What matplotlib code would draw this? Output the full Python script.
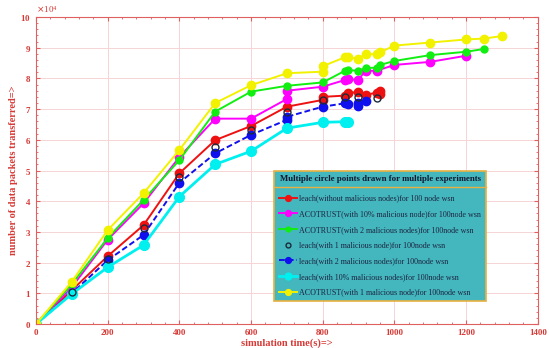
import matplotlib
matplotlib.use("Agg")
import matplotlib.pyplot as plt
from matplotlib.ticker import ScalarFormatter, AutoMinorLocator
from matplotlib.lines import Line2D

# ---- data (packets in units of 1e4) ----
SCALE = 1e4
red_x = [0, 100, 200, 300, 400, 500, 600, 700, 800, 800, 862, 871, 898, 920, 950, 960, 960]
red_y = [0, 1.1, 2.21, 3.22, 4.91, 5.99, 6.45, 7.08, 7.3, 7.4, 7.44, 7.51, 7.57, 7.46, 7.54, 7.6, 7.5]

mag_x = [0, 100, 200, 300, 400, 500, 600, 700, 700, 800, 862, 871, 898, 920, 950, 1000, 1100, 1200]
mag_y = [0, 1.2, 2.75, 3.93, 5.44, 6.69, 6.69, 7.33, 7.6, 7.73, 7.95, 7.97, 7.95, 8.25, 8.25, 8.44, 8.54, 8.74]

grn_x = [0, 100, 200, 300, 400, 500, 600, 700, 800, 862, 871, 898, 920, 950, 960, 1000, 1100, 1200, 1250]
grn_y = [0, 1.3, 2.8, 4.04, 5.34, 6.92, 7.57, 7.76, 7.87, 8.25, 8.27, 8.25, 8.34, 8.35, 8.44, 8.57, 8.76, 8.87, 8.96]

blk_x = [100, 200, 300, 400, 500, 600, 700, 800, 862, 898, 950]
blk_y = [1.05, 2.12, 3.12, 4.8, 5.78, 6.32, 6.91, 7.3, 7.38, 7.38, 7.37]

blu_x = [0, 100, 200, 300, 400, 500, 600, 700, 700, 800, 862, 871, 898, 898, 920]
blu_y = [0, 1.0, 2.08, 2.9, 4.6, 5.56, 6.16, 6.65, 6.75, 7.08, 7.19, 7.17, 7.1, 7.2, 7.26]

cyn_x = [0, 100, 200, 300, 400, 500, 600, 700, 800, 862, 871]
cyn_y = [0, 0.98, 1.85, 2.57, 4.15, 5.2, 5.63, 6.38, 6.57, 6.59, 6.59]

yel_x = [0, 100, 200, 300, 400, 500, 600, 700, 800, 800, 862, 871, 898, 920, 950, 960, 1000, 1100, 1200, 1250, 1300]
yel_y = [0, 1.38, 3.06, 4.26, 5.67, 7.2, 7.78, 8.17, 8.22, 8.4, 8.69, 8.69, 8.63, 8.8, 8.78, 8.85, 9.07, 9.17, 9.27, 9.3, 9.38]

labels = [
    "leach(without malicious nodes)for 100 node wsn",
    "ACOTRUST(with 10% malicious node)for 100node wsn",
    "ACOTRUST(with 2 malicious nodes)for 100node wsn",
    "leach(with 1 malicious node)for 100node wsn",
    "leach(with 2 malicious nodes)for 100node wsn",
    "leach(with 10% malicious nodes)for 100node wsn",
    "ACOTRUST(with 1 malicious node)for 100node wsn",
]
legend_title = "Multiple circle points drawn for multiple experiments"
xticks = [0, 200, 400, 600, 800, 1000, 1200, 1400]

RED_TXT = "#d63a36"
plt.rcParams['font.family'] = ['Liberation Serif', 'DejaVu Serif']

fig = plt.figure(figsize=(5.49, 3.48), dpi=100)
ax = fig.add_axes([0.0656, 0.069, 0.914, 0.882])

def s(v):
    return [a * SCALE for a in v]

ms = 6
lw = 1.4
ax.plot(red_x, s(red_y), '-o', color='#ee1111', lw=lw, ms=ms, label=labels[0])
ax.plot(mag_x, s(mag_y), '-o', color='#ff00ff', lw=lw, ms=ms, label=labels[1])
ax.plot(grn_x, s(grn_y), '-o', color='#11ee11', lw=lw, ms=ms - 1, label=labels[2])
ax.plot(blk_x, s(blk_y), 'o', color='none', mec='#1a2a3a', mew=1.0, ms=ms - 1, label=labels[3], zorder=5)
ax.plot(blu_x, s(blu_y), '--o', color='#1010ee', lw=lw, ms=ms, label=labels[4], dashes=(3, 1.5))
ax.plot(cyn_x, s(cyn_y), '-o', color='#00f0f0', lw=lw + 0.6, ms=ms + 1, label=labels[5])
ax.plot(yel_x, s(yel_y), '-o', color='#f2f200', lw=lw, ms=ms, label=labels[6])

ax.set_xlim(0, 1400)
ax.set_ylim(0, 10 * SCALE)
ax.set_xticks(xticks)
ax.set_yticks([i * SCALE for i in range(11)])
fmt = ScalarFormatter(useMathText=True)
fmt.set_powerlimits((4, 4))
ax.yaxis.set_major_formatter(fmt)
ax.yaxis.get_offset_text().set_color(RED_TXT)
ax.yaxis.get_offset_text().set_fontsize(6.5)
ax.yaxis.set_minor_locator(AutoMinorLocator(5))
ax.xaxis.set_minor_locator(AutoMinorLocator(5))

ax.grid(True, which='major', color='#f5d4d4', lw=0.7)
for sp in ax.spines.values():
    sp.set_color('#e06060')
    sp.set_linewidth(0.8)
ax.tick_params(axis='both', which='both', direction='in', colors='#e06060',
               labelcolor=RED_TXT, labelsize=6.5, top=True, right=True)
ax.tick_params(which='major', length=3)
ax.tick_params(which='minor', length=1.5)
for lab in ax.get_xticklabels() + ax.get_yticklabels():
    lab.set_fontweight('bold')

ax.set_xlabel("simulation time(s)=>", color=RED_TXT, fontsize=7.5, fontweight='bold', labelpad=1)
ax.set_ylabel("number of data packets transferred=>", color=RED_TXT, fontsize=7.5, fontweight='bold', labelpad=2)

leg = ax.legend(loc='upper left', bbox_to_anchor=(0.475, 0.500), fontsize=5.8,
                title=legend_title, title_fontproperties={'size': 6.3, 'weight': 'bold', 'family': 'Liberation Serif'},
                facecolor='#44b6be', edgecolor='#e8b040', framealpha=1, fancybox=False,
                handlelength=2.2, handletextpad=0.25, labelspacing=0.95, borderpad=0.6,
                markerscale=0.7, borderaxespad=0)
leg.get_frame().set_linewidth(1.2)
leg._legend_box.sep = 8
for t in leg.get_texts():
    t.set_color('#1c2440')
leg.get_title().set_color('#101830')

fig.canvas.draw()
renderer = fig.canvas.get_renderer()
fb = leg.get_frame().get_window_extent(renderer)
tb = leg.get_title().get_window_extent(renderer)
ysep = tb.y0 - 4
inv = fig.transFigure.inverted()
(x0, y0) = inv.transform((fb.x0, ysep))
(x1, _) = inv.transform((fb.x1, ysep))
fig.add_artist(Line2D([x0, x1], [y0, y0], color='#e8b040', lw=1.0, transform=fig.transFigure, zorder=10))

fig.savefig("out.png", dpi=100, facecolor='white')
